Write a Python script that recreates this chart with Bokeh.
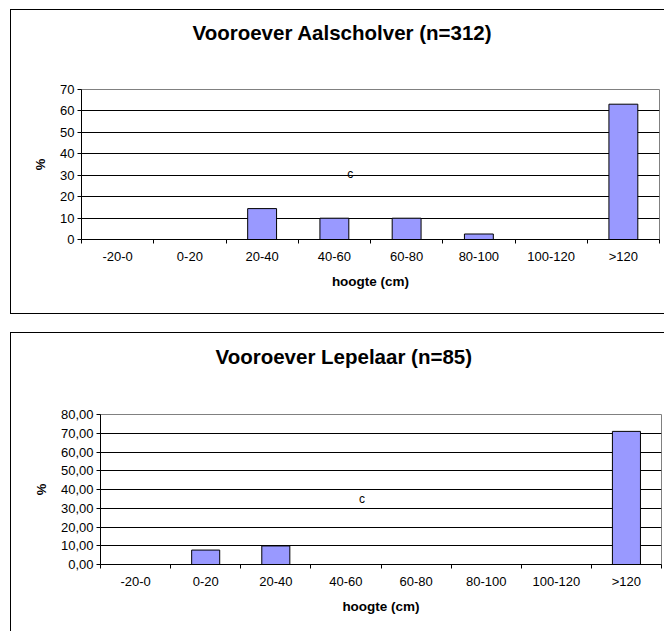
from bokeh.plotting import figure
from bokeh.models import FixedTicker, Range1d, Label, Title
from bokeh.embed import file_html
from bokeh.resources import INLINE

# height classes (cm)
categories = ["-20-0", "0-20", "20-40", "40-60", "60-80", "80-100", "100-120", ">120"]

# share of nests per height class (%)
aalscholver_pct = [0, 0, 14.42, 9.94, 9.94, 2.56, 0, 63.14]
lepelaar_pct = [0, 7.7, 9.9, 0, 0, 0, 0, 71.0]

aalscholver_yticks = [0, 10, 20, 30, 40, 50, 60, 70]
aalscholver_ylabels = ["0", "10", "20", "30", "40", "50", "60", "70"]
lepelaar_yticks = [0, 10, 20, 30, 40, 50, 60, 70, 80]
lepelaar_ylabels = ["0,00", "10,00", "20,00", "30,00", "40,00", "50,00", "60,00", "70,00", "80,00"]

FONT = "Liberation Sans"
BAR_FILL = "#9999FF"


def make_chart(title, values, yticks, ylabels, height, left, top, bottom, right,
               title_offset, title_gap, note_pos, margin_top, borders):
    n = len(categories)
    p = figure(width=654, height=height, output_backend="svg", toolbar_location=None,
               title=None,
               x_range=Range1d(0, n), y_range=Range1d(yticks[0], yticks[-1]),
               min_border_left=left, min_border_top=top,
               min_border_bottom=bottom, min_border_right=right,
               margin=(margin_top, 0, 0, 10))
    p.styles = {f"border-{side}": "1px solid black" for side in borders}

    # blank band between plot area and title, then the title itself
    p.add_layout(Title(text=" ", text_font_size="1px", standoff=title_gap), "above")
    p.add_layout(Title(text=title, align="left", vertical_align="middle",
                       offset=title_offset, standoff=0,
                       text_font=FONT, text_font_size="20.5px",
                       text_font_style="bold", text_color="black"), "above")

    # bars, one per height class, centred in its slot
    xs = [i + 0.5 for i in range(n)]
    p.vbar(x=xs, top=values, width=0.4, bottom=0,
           fill_color=BAR_FILL, line_color="black", line_width=1)

    # frame and grid (the top edge is drawn by the grey frame outline)
    p.outline_line_color = "#808080"
    p.outline_line_width = 1
    p.background_fill_color = "white"
    p.xgrid.visible = False
    p.ygrid.grid_line_color = "black"
    p.ygrid.grid_line_width = 1
    p.ygrid.ticker = FixedTicker(ticks=yticks[:-1])

    # x axis: labels at slot centres, tick marks on slot boundaries
    xax = p.xaxis[0]
    xax.ticker = FixedTicker(ticks=xs, minor_ticks=list(range(n + 1)))
    xax.major_label_overrides = {x: c for x, c in zip(xs, categories)}
    xax.major_tick_out = 0
    xax.major_tick_in = 0
    xax.minor_tick_out = 4
    xax.minor_tick_in = 0
    xax.minor_tick_line_color = "black"
    xax.axis_line_color = "black"
    xax.major_label_text_font = FONT
    xax.major_label_text_font_size = "13px"
    xax.major_label_text_color = "black"
    xax.major_label_standoff = 5
    xax.axis_label = "hoogte (cm)"
    xax.axis_label_text_font = FONT
    xax.axis_label_text_font_size = "13.5px"
    xax.axis_label_text_font_style = "bold"
    xax.axis_label_text_color = "black"
    xax.axis_label_standoff = 7

    # y axis
    yax = p.yaxis[0]
    yax.ticker = FixedTicker(ticks=yticks)
    yax.major_label_overrides = {t: s for t, s in zip(yticks, ylabels)}
    yax.major_tick_out = 4
    yax.major_tick_in = 0
    yax.minor_tick_out = 0
    yax.minor_tick_in = 0
    yax.axis_line_color = "black"
    yax.major_tick_line_color = "black"
    yax.major_label_text_font = FONT
    yax.major_label_text_font_size = "13px"
    yax.major_label_text_color = "black"
    yax.major_label_standoff = 3
    yax.axis_label = "%"
    yax.axis_label_text_font = FONT
    yax.axis_label_text_font_size = "13px"
    yax.axis_label_text_font_style = "bold"
    yax.axis_label_text_color = "black"
    yax.axis_label_standoff = 9

    p.add_layout(Label(x=note_pos[0], y=note_pos[1], text="c", text_align="center",
                       text_baseline="middle", text_font=FONT,
                       text_font_size="12px", text_color="black"))
    return p


p1 = make_chart("Vooroever Aalscholver (n=312)", aalscholver_pct,
                aalscholver_yticks, aalscholver_ylabels,
                height=305, left=70, top=79, bottom=76, right=6,
                title_offset=111, title_gap=42, note_pos=(3.72, 30.8),
                margin_top=9, borders=("left", "top", "bottom"))
p2 = make_chart("Vooroever Lepelaar (n=85)", lepelaar_pct,
                lepelaar_yticks, lepelaar_ylabels,
                height=299, left=89, top=81, bottom=68, right=4,
                title_offset=115, title_gap=43, note_pos=(3.73, 34.8),
                margin_top=18, borders=("left", "top"))

open("out.html", "w").write(file_html([p1, p2], INLINE))
